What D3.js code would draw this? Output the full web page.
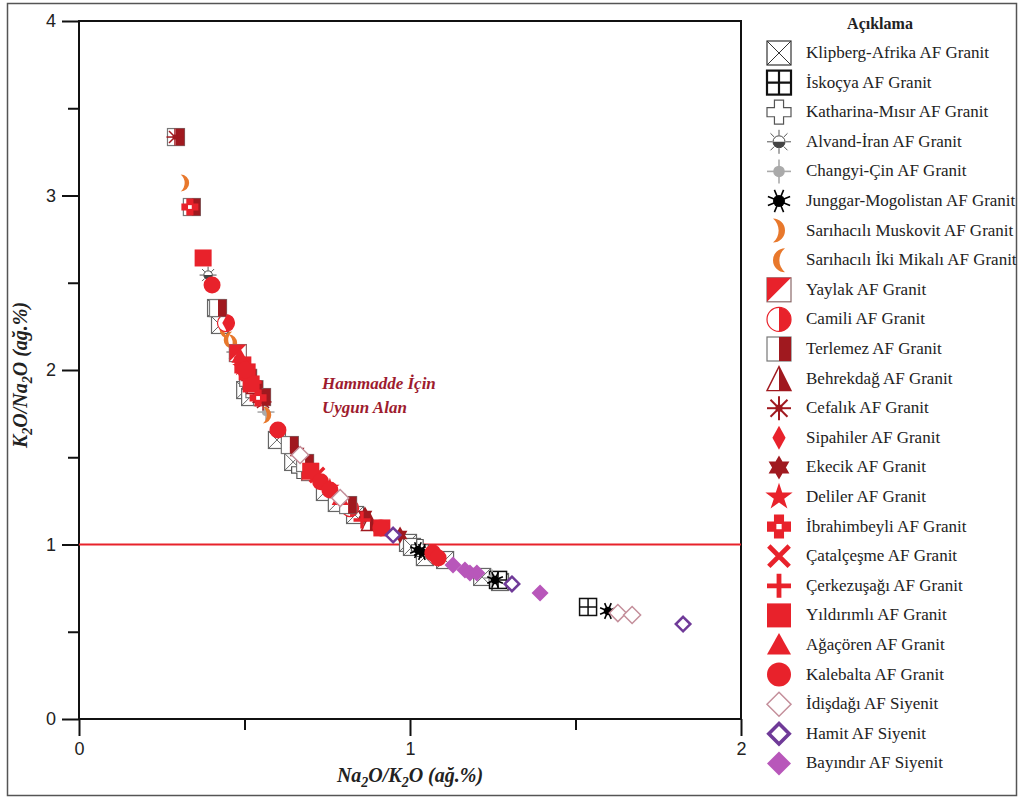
<!DOCTYPE html>
<html>
<head>
<meta charset="utf-8">
<script src="https://cdn.jsdelivr.net/npm/d3@7"></script>
<style>
  body { margin: 0; background: #fff; }
  svg { display: block; }
</style>
</head>
<body>
<div id="chart"></div>
<script>
// values: [Na2O/K2O, K2O/Na2O]
var klipberg = [[0.414,2.355],[0.426,2.258],[0.502,1.885],[0.517,1.845],[0.598,1.599],[0.647,1.473],
  [0.743,1.301],[0.779,1.238],[0.834,1.169],[0.994,1.009],[1.006,0.986],[1.045,0.928],[1.106,0.911],
  [1.218,0.814],[1.272,0.785]];
var iskocya = [[1.266,0.797],[1.538,0.642]];
var katharina = [[0.668,1.427],[1.030,0.980]];
var alvand = [[0.390,2.544],[0.471,2.103]];
var changyi = [[0.565,1.759],[1.248,0.808]];
var junggar = [[1.024,0.968],[1.036,0.957],[1.257,0.797],[1.598,0.619]];
var muskovit = [[0.320,3.072],[0.465,2.155],[0.568,1.742]];
var ikiMikali = [[0.438,2.229],[0.450,2.172]];
var yaylak = [[0.480,2.097],[0.698,1.415]];
var camili = [[0.444,2.269],[0.819,1.209]];
var terlemez = [[0.293,3.335],[0.341,2.934],[0.420,2.355],[0.511,1.955],[0.530,1.890],[0.553,1.845],
  [0.637,1.570],[0.683,1.467],[0.813,1.226]];
var behrekdag = [[0.532,1.914],[0.879,1.129]];
var cefalik = [[0.290,3.335],[0.556,1.817]];
var sipahiler = [[0.447,2.269],[0.668,1.513]];
var ekecik = [[0.511,1.960],[0.545,1.835],[0.659,1.530],[0.864,1.169],[0.970,1.054]];
var deliler = [[0.492,2.017],[0.758,1.324]];
var ibrahimbeyli = [[0.335,2.934],[0.541,1.840]];
var catalcesme = [[0.719,1.398]];
var cerkezusagi = [[0.526,1.931],[0.855,1.140]];
var yildirimli = [[0.375,2.642],[0.495,2.029],[0.508,1.989],[0.520,1.920],[0.700,1.420],[0.915,1.095]];
var agacoren = [[0.486,2.080],[0.789,1.266]];
var kalebalta = [[0.402,2.487],[0.502,2.000],[0.601,1.656],[0.730,1.360],[0.758,1.312],[0.912,1.095],
  [1.069,0.951],[1.085,0.923]];
var idisdagi = [[0.668,1.513],[0.789,1.266],[1.628,0.607],[1.671,0.596]];
var hamit = [[0.949,1.054],[1.308,0.774],[1.825,0.544]];
var bayindir = [[1.130,0.883],[1.166,0.854],[1.181,0.837],[1.202,0.837],[1.393,0.722]];

var xTicks = [0, 1, 2];
var xMinor = [0.5, 1.5];
var yTicks = [0, 1, 2, 3, 4];
var yMinor = [0.5, 1.5, 2.5, 3.5];
var limitY = 1;

var series = [
  {name: 'Klipberg-Afrika AF Granit', sym: 'klip', data: klipberg},
  {name: 'İskoçya AF Granit', sym: 'isk', data: iskocya},
  {name: 'Katharina-Mısır AF Granit', sym: 'kath', data: katharina},
  {name: 'Alvand-İran AF Granit', sym: 'alvand', data: alvand},
  {name: 'Changyi-Çin AF Granit', sym: 'changyi', data: changyi},
  {name: 'Junggar-Mogolistan AF Granit', sym: 'junggar', data: junggar},
  {name: 'Sarıhacılı Muskovit AF Granit', sym: 'moonR', data: muskovit},
  {name: 'Sarıhacılı İki Mikalı AF Granit', sym: 'moonL', data: ikiMikali},
  {name: 'Yaylak AF Granit', sym: 'yaylak', data: yaylak},
  {name: 'Camili AF Granit', sym: 'camili', data: camili},
  {name: 'Terlemez AF Granit', sym: 'terlemez', data: terlemez},
  {name: 'Behrekdağ AF Granit', sym: 'behrek', data: behrekdag},
  {name: 'Cefalık AF Granit', sym: 'cefalik', data: cefalik},
  {name: 'Sipahiler AF Granit', sym: 'sipahi', data: sipahiler},
  {name: 'Ekecik AF Granit', sym: 'ekecik', data: ekecik},
  {name: 'Deliler AF Granit', sym: 'deliler', data: deliler},
  {name: 'İbrahimbeyli AF Granit', sym: 'ibrahim', data: ibrahimbeyli},
  {name: 'Çatalçeşme AF Granit', sym: 'catal', data: catalcesme},
  {name: 'Çerkezuşağı AF Granit', sym: 'cerkez', data: cerkezusagi},
  {name: 'Yıldırımlı AF Granit', sym: 'square', data: yildirimli},
  {name: 'Ağaçören AF Granit', sym: 'triangle', data: agacoren},
  {name: 'Kalebalta AF Granit', sym: 'circle', data: kalebalta},
  {name: 'İdişdağı AF Siyenit', sym: 'idis', data: idisdagi},
  {name: 'Hamit AF Siyenit', sym: 'hamit', data: hamit},
  {name: 'Bayındır AF Siyenit', sym: 'bayindir', data: bayindir}
];

var RED = '#e8222b', DARK = '#a0191f', ORANGE = '#e8782c';
var serif = '"Liberation Serif", "Times New Roman", serif';
var sans = '"Liberation Sans", Arial, sans-serif';

function rays(g, n, r0, r1, color, sw, offset) {
  for (var i = 0; i < n; i++) {
    var a = (offset || 0) + i * Math.PI * 2 / n;
    g.append('line')
      .attr('x1', r0 * Math.cos(a)).attr('y1', r0 * Math.sin(a))
      .attr('x2', r1 * Math.cos(a)).attr('y2', r1 * Math.sin(a))
      .attr('stroke', color).attr('stroke-width', sw);
  }
}

function plusPath(s, a) {
  return 'M' + [[-a,-s],[a,-s],[a,-a],[s,-a],[s,a],[a,a],[a,s],[-a,s],[-a,a],[-s,a],[-s,-a],[-a,-a]]
    .map(function(p) { return p.join(','); }).join('L') + 'Z';
}

function diamond(s, k) {
  return 'M0,' + (-s) + 'L' + (s * k) + ',0L0,' + s + 'L' + (-s * k) + ',0Z';
}

function drawSym(g, k, s) {
  var big = s > 10;
  switch (k) {
    case 'klip':
      g.append('rect').attr('x', -s).attr('y', -s).attr('width', 2*s).attr('height', 2*s)
        .attr('fill', '#fff').attr('stroke', big ? '#333' : '#666').attr('stroke-width', 1.2);
      g.append('path').attr('d', 'M'+(-s)+','+(-s)+'L'+s+','+s+'M'+s+','+(-s)+'L'+(-s)+','+s)
        .attr('stroke', big ? '#333' : '#666').attr('stroke-width', 1);
      break;
    case 'isk':
      g.append('rect').attr('x', -s).attr('y', -s).attr('width', 2*s).attr('height', 2*s)
        .attr('fill', '#fff').attr('stroke', '#111').attr('stroke-width', big ? 2.2 : 1.5);
      g.append('path').attr('d', 'M0,'+(-s)+'V'+s+'M'+(-s)+',0H'+s)
        .attr('stroke', '#111').attr('stroke-width', big ? 2.2 : 1.5);
      break;
    case 'kath':
      g.append('path').attr('d', plusPath(s, s * 0.38))
        .attr('fill', '#fff').attr('stroke', '#555').attr('stroke-width', 1.2);
      break;
    case 'alvand':
      rays(g, 8, s * 0.55, s, '#555', 1, 0);
      g.append('circle').attr('r', s * 0.5).attr('fill', '#fff').attr('stroke', '#444').attr('stroke-width', 1);
      g.append('path').attr('d', 'M'+(-s*0.5)+',0A'+(s*0.5)+','+(s*0.5)+' 0 0 0 '+(s*0.5)+',0Z').attr('fill', '#444');
      break;
    case 'changyi':
      rays(g, 4, s * 0.4, s, '#aaa', 1.6, 0);
      g.append('circle').attr('r', s * 0.48).attr('fill', '#aaa');
      break;
    case 'junggar':
      rays(g, 8, 0, s, '#000', 1.6, Math.PI / 8);
      g.append('circle').attr('r', s * 0.5).attr('fill', '#000');
      break;
    case 'moonR':
    case 'moonL':
      var dir = k === 'moonR' ? 1 : -1;
      var r2 = s * 1.3;
      var x0 = -0.5 * s * dir;
      g.append('path')
        .attr('d', 'M'+x0+','+(-s)+'A'+s+','+s+' 0 0 '+(dir > 0 ? 1 : 0)+' '+x0+','+s+
          'A'+r2+','+r2+' 0 0 '+(dir > 0 ? 0 : 1)+' '+x0+','+(-s)+'Z')
        .attr('fill', ORANGE);
      break;
    case 'yaylak':
      g.append('rect').attr('x', -s).attr('y', -s).attr('width', 2*s).attr('height', 2*s)
        .attr('fill', '#fff').attr('stroke', '#8a6a6a').attr('stroke-width', 1.2);
      g.append('path').attr('d', 'M'+(-s)+','+(-s)+'L'+s+','+(-s)+'L'+(-s)+','+s+'Z').attr('fill', RED);
      break;
    case 'camili':
      g.append('circle').attr('r', s).attr('fill', '#fff').attr('stroke', RED).attr('stroke-width', 1.2);
      g.append('path').attr('d', 'M0,'+(-s)+'A'+s+','+s+' 0 0 1 0,'+s+'Z').attr('fill', RED);
      break;
    case 'terlemez':
      g.append('rect').attr('x', -s).attr('y', -s).attr('width', 2*s).attr('height', 2*s)
        .attr('fill', '#fff').attr('stroke', '#777').attr('stroke-width', 1.2);
      g.append('rect').attr('x', 0).attr('y', -s).attr('width', s).attr('height', 2*s).attr('fill', DARK);
      break;
    case 'behrek':
      g.append('path').attr('d', 'M0,'+(-s)+'L'+s+','+s+'L'+(-s)+','+s+'Z')
        .attr('fill', '#fff').attr('stroke', DARK).attr('stroke-width', 1.4);
      g.append('path').attr('d', 'M0,'+(-s)+'L'+s+','+s+'L0,'+s+'Z').attr('fill', DARK);
      break;
    case 'cefalik':
      rays(g, 8, 0, s, DARK, big ? 2 : 1.5, -Math.PI / 2);
      g.append('circle').attr('r', s * 0.3).attr('fill', DARK);
      break;
    case 'sipahi':
      g.append('path').attr('d', diamond(s, 0.55)).attr('fill', RED);
      break;
    case 'ekecik':
      var t1 = [], t2 = [];
      for (var i = 0; i < 3; i++) {
        var a1 = -Math.PI / 2 + i * 2 * Math.PI / 3, a2 = Math.PI / 2 + i * 2 * Math.PI / 3;
        t1.push([s * Math.cos(a1), s * Math.sin(a1)]);
        t2.push([s * Math.cos(a2), s * Math.sin(a2)]);
      }
      g.append('path').attr('d', 'M' + t1.join('L') + 'Z' + 'M' + t2.join('L') + 'Z').attr('fill', DARK);
      break;
    case 'deliler':
      g.append('path').attr('d', d3.symbol().type(d3.symbolStar).size(s * s * 1.6)()).attr('fill', RED);
      break;
    case 'ibrahim':
      g.append('path').attr('d', plusPath(s, s * 0.42)).attr('fill', RED);
      g.append('rect').attr('x', -s*0.22).attr('y', -s*0.22).attr('width', s*0.44).attr('height', s*0.44).attr('fill', '#fff');
      break;
    case 'catal':
      g.append('path').attr('d', 'M'+(-s*0.85)+','+(-s*0.85)+'L'+(s*0.85)+','+(s*0.85)+'M'+(s*0.85)+','+(-s*0.85)+'L'+(-s*0.85)+','+(s*0.85))
        .attr('stroke', RED).attr('stroke-width', s * 0.4);
      break;
    case 'cerkez':
      g.append('path').attr('d', 'M0,'+(-s)+'V'+s+'M'+(-s)+',0H'+s)
        .attr('stroke', RED).attr('stroke-width', s * 0.4);
      break;
    case 'square':
      g.append('rect').attr('x', -s).attr('y', -s).attr('width', 2*s).attr('height', 2*s).attr('fill', RED);
      break;
    case 'triangle':
      g.append('path').attr('d', 'M0,'+(-s)+'L'+s+','+(s*0.8)+'L'+(-s)+','+(s*0.8)+'Z').attr('fill', RED);
      break;
    case 'circle':
      g.append('circle').attr('r', s).attr('fill', RED);
      break;
    case 'idis':
      g.append('path').attr('d', diamond(s, 1)).attr('fill', '#fff').attr('stroke', '#c48f9b').attr('stroke-width', 1.5);
      break;
    case 'hamit':
      g.append('path').attr('d', diamond(s * 0.85, 1)).attr('fill', '#fff').attr('stroke', '#6f3a98').attr('stroke-width', s * 0.3);
      break;
    case 'bayindir':
      g.append('path').attr('d', diamond(s, 1)).attr('fill', '#b857ba');
      break;
  }
}

var W = 1020, H = 799;
var svg = d3.select('#chart').append('svg').attr('width', W).attr('height', H);

svg.append('rect').attr('x', 7.5).attr('y', 3.5).attr('width', 1009).attr('height', 792)
  .attr('fill', '#fff').attr('stroke', '#555').attr('stroke-width', 1.5);

var x = d3.scaleLinear().domain([0, 2]).range([79, 741]);
var y = d3.scaleLinear().domain([0, 4]).range([719, 21]);

// axes
function styleAxis(g, size) {
  g.select('.domain').remove();
  g.selectAll('line').attr('stroke', '#111').attr('stroke-width', 2);
  g.selectAll('text').attr('font-family', sans).attr('font-size', size).attr('fill', '#222');
}
svg.append('g').attr('transform', 'translate(79,0)')
  .call(d3.axisLeft(y).tickValues(yTicks).tickSize(17).tickPadding(6).tickFormat(d3.format('d')))
  .call(styleAxis, 18);
svg.append('g').attr('transform', 'translate(79,0)')
  .call(d3.axisLeft(y).tickValues(yMinor).tickSize(11).tickFormat(''))
  .call(styleAxis, 18);
svg.append('g').attr('transform', 'translate(0,719)')
  .call(d3.axisBottom(x).tickValues(xTicks).tickSize(17).tickPadding(6).tickFormat(d3.format('d')))
  .call(styleAxis, 18);
svg.append('g').attr('transform', 'translate(0,719)')
  .call(d3.axisBottom(x).tickValues(xMinor).tickSize(11).tickFormat(''))
  .call(styleAxis, 18);

svg.append('rect').attr('x', x(0)).attr('y', y(4)).attr('width', x(2) - x(0)).attr('height', y(0) - y(4))
  .attr('fill', 'none').attr('stroke', '#111').attr('stroke-width', 2);

// K2O/Na2O = 1 line
svg.append('line').attr('x1', x(0)).attr('x2', x(2)).attr('y1', y(limitY)).attr('y2', y(limitY))
  .attr('stroke', RED).attr('stroke-width', 2);

// points
series.forEach(function(s) {
  svg.append('g').selectAll('g').data(s.data).enter().append('g')
    .attr('transform', function(d) { return 'translate(' + x(d[0]) + ',' + y(d[1]) + ')'; })
    .each(function() { drawSym(d3.select(this), s.sym, 8.5); });
});

// annotation
var ann = svg.append('text').attr('font-family', serif).attr('font-weight', 'bold').attr('font-style', 'italic')
  .attr('font-size', 17).attr('fill', '#9e1b2e');
ann.append('tspan').attr('x', 322).attr('y', 389).text('Hammadde İçin');
ann.append('tspan').attr('x', 322).attr('y', 413).text('Uygun Alan');

// axis titles
function subTitle(t, parts) {
  parts.forEach(function(p) {
    if (p.sub) {
      t.append('tspan').attr('font-size', 14).attr('dy', 5).text(p.text);
    } else {
      t.append('tspan').attr('dy', p.back ? -5 : 0).text(p.text);
    }
  });
}
var xt = svg.append('text').attr('x', 410).attr('y', 782).attr('text-anchor', 'middle')
  .attr('font-family', serif).attr('font-weight', 'bold').attr('font-style', 'italic').attr('font-size', 20).attr('fill', '#222');
subTitle(xt, [{text: 'Na'}, {text: '2', sub: true}, {text: 'O/K', back: true}, {text: '2', sub: true}, {text: 'O (ağ.%)', back: true}]);

var yt = svg.append('text').attr('transform', 'translate(27,375) rotate(-90)').attr('text-anchor', 'middle')
  .attr('font-family', serif).attr('font-weight', 'bold').attr('font-style', 'italic').attr('font-size', 20).attr('fill', '#222');
subTitle(yt, [{text: 'K'}, {text: '2', sub: true}, {text: 'O/Na', back: true}, {text: '2', sub: true}, {text: 'O (ağ.%)', back: true}]);

// legend
svg.append('text').attr('x', 880).attr('y', 29).attr('text-anchor', 'middle')
  .attr('font-family', serif).attr('font-weight', 'bold').attr('font-size', 16).attr('fill', '#222').text('Açıklama');
var leg = svg.append('g').selectAll('g').data(series).enter().append('g')
  .attr('transform', function(d, i) { return 'translate(779,' + (53 + i * 29.6) + ')'; });
leg.each(function(d) { drawSym(d3.select(this), d.sym, 12); });
leg.append('text').attr('x', 27).attr('y', 5).attr('font-family', serif).attr('font-size', 17).attr('fill', '#222')
  .text(function(d) { return d.name; });
</script>
</body>
</html>
